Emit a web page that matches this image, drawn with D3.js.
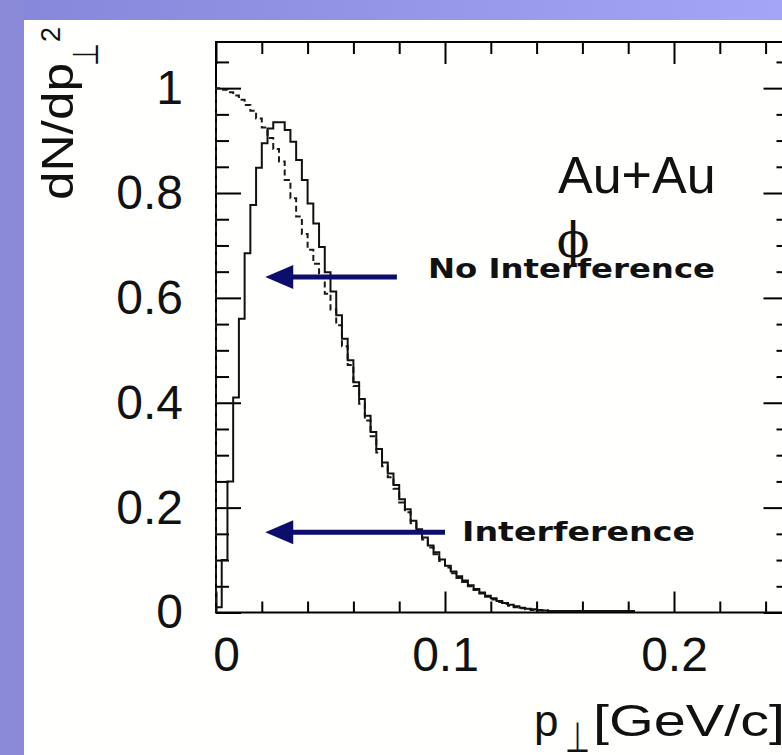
<!DOCTYPE html>
<html>
<head>
<meta charset="utf-8">
<script src="https://cdn.jsdelivr.net/npm/d3@7/dist/d3.min.js"></script>
<style>
  body { margin: 0; background: #fff; }
  svg { display: block; }
  text { font-family: "Liberation Sans", Arial, Helvetica, sans-serif; fill: #111; }
</style>
</head>
<body>
<div id="chart"></div>
<script>
// histogram bin width, GeV/c
var binWidth = 0.0025;

// dN/dp_T^2 per bin, with interference (solid line)
var interference = [
    0.01, 0.10, 0.25, 0.41, 0.56, 0.685, 0.777, 0.848, 0.895, 0.923,
    0.935, 0.935, 0.92, 0.898, 0.863, 0.825, 0.78, 0.742, 0.697, 0.649,
    0.612, 0.567, 0.522, 0.481, 0.439, 0.407, 0.375, 0.344, 0.312, 0.286,
    0.265, 0.243, 0.216, 0.197, 0.175, 0.159, 0.143, 0.128, 0.115, 0.101,
    0.089, 0.078, 0.069, 0.061, 0.052, 0.045, 0.038, 0.032, 0.027, 0.022,
    0.018, 0.015, 0.012, 0.009, 0.007, 0.006, 0.005, 0.004, 0.003, 0.003,
    0.003, 0.003, 0.003, 0.003, 0.003, 0.003, 0.003, 0.003, 0.003, 0.003,
    0.003, 0.003, 0.003
];

// dN/dp_T^2 per bin, no interference (dashed line)
var noInterference = [
    1.0, 0.997, 0.992, 0.986, 0.978, 0.968, 0.957, 0.942, 0.925, 0.905,
    0.884, 0.86, 0.825, 0.79, 0.755, 0.722, 0.692, 0.665, 0.638, 0.608,
    0.578, 0.548, 0.508, 0.472, 0.432, 0.398, 0.366, 0.336, 0.305, 0.279,
    0.258, 0.236, 0.21, 0.191, 0.17, 0.154, 0.139, 0.124, 0.111, 0.098,
    0.086, 0.075, 0.066, 0.058, 0.05, 0.043, 0.036, 0.03, 0.025, 0.02,
    0.016, 0.013, 0.01, 0.008, 0.006, 0.005, 0.004, 0.004, 0.003, 0.003,
    0.003, 0.003, 0.003, 0.003, 0.003, 0.003, 0.003, 0.003, 0.003, 0.003,
    0.003, 0.003, 0.003
];

var xMajor = [0, 0.1, 0.2];
var xMinor = [0.02, 0.04, 0.06, 0.08, 0.12, 0.14, 0.16, 0.18, 0.22, 0.24];
var yMajor = [0, 0.2, 0.4, 0.6, 0.8, 1];
var yMinor = [0.05, 0.1, 0.15, 0.25, 0.3, 0.35, 0.45, 0.5, 0.55, 0.65, 0.7, 0.75, 0.85, 0.9, 0.95, 1.05];

// arrows: tip and tail in data coordinates
var arrows = [
    {x0: 0.0215, x1: 0.079, y: 0.64},
    {x0: 0.0215, x1: 0.1, y: 0.153}
];

var width = 782,
    height = 755,
    frame = {left: 216, right: 788.5, top: 42, bottom: 612.5},
    navy = '#0d0d6b';

var svg = d3.select('#chart').append('svg')
    .attr('width', width)
    .attr('height', height);

// purple slide background
var grad = svg.append('defs').append('linearGradient')
    .attr('id', 'bg')
    .attr('x1', 0).attr('x2', 1).attr('y1', 0).attr('y2', 0);
grad.append('stop').attr('offset', 0).attr('stop-color', '#8686da');
grad.append('stop').attr('offset', 1).attr('stop-color', '#a5a5f5');

svg.append('rect').attr('width', width).attr('height', height).attr('fill', 'url(#bg)');
svg.append('rect').attr('width', 24).attr('height', height).attr('fill', '#8a8ad8');
svg.append('rect')
    .attr('x', 24).attr('y', 20)
    .attr('width', width - 24).attr('height', height - 20)
    .attr('fill', '#fffffd');

var x = d3.scaleLinear().domain([0, 0.25]).range([frame.left, frame.right]);
var y = d3.scaleLinear().domain([0, 1.088]).range([frame.bottom, frame.top]);

function fmt(d) { return String(d); }

function styleAxis(g) {
    g.select('.domain').remove();
    g.selectAll('line').attr('stroke', '#000').attr('stroke-width', 2);
}

// bottom
svg.append('g')
    .attr('transform', 'translate(0,' + frame.bottom + ')')
    .call(d3.axisBottom(x).tickValues(xMajor).tickSize(-21).tickFormat(fmt))
    .call(styleAxis)
    .call(function(g) {
        g.selectAll('text')
            .attr('y', 58.5).attr('dy', 0)
            .attr('dx', function(d) { return d === 0 ? 10 : 0; })
            .style('font-size', '48px').attr('fill', '#111');
    });
svg.append('g')
    .attr('transform', 'translate(0,' + frame.bottom + ')')
    .call(d3.axisBottom(x).tickValues(xMinor).tickSize(-11).tickFormat(''))
    .call(styleAxis);

// top
svg.append('g')
    .attr('transform', 'translate(0,' + frame.top + ')')
    .call(d3.axisTop(x).tickValues(xMajor).tickSize(-22).tickFormat(''))
    .call(styleAxis);
svg.append('g')
    .attr('transform', 'translate(0,' + frame.top + ')')
    .call(d3.axisTop(x).tickValues(xMinor).tickSize(-12).tickFormat(''))
    .call(styleAxis);

// left
svg.append('g')
    .attr('transform', 'translate(' + frame.left + ',0)')
    .call(d3.axisLeft(y).tickValues(yMajor).tickSize(-25).tickPadding(33).tickFormat(fmt))
    .call(styleAxis)
    .call(function(g) {
        g.selectAll('text').style('font-size', '48px').attr('fill', '#111');
    });
svg.append('g')
    .attr('transform', 'translate(' + frame.left + ',0)')
    .call(d3.axisLeft(y).tickValues(yMinor).tickSize(-13).tickFormat(''))
    .call(styleAxis);

// right
svg.append('g')
    .attr('transform', 'translate(' + frame.right + ',0)')
    .call(d3.axisRight(y).tickValues(yMajor).tickSize(-25).tickFormat(''))
    .call(styleAxis);
svg.append('g')
    .attr('transform', 'translate(' + frame.right + ',0)')
    .call(d3.axisRight(y).tickValues(yMinor).tickSize(-12).tickFormat(''))
    .call(styleAxis);

// frame
svg.append('rect')
    .attr('x', frame.left).attr('y', frame.top)
    .attr('width', frame.right - frame.left)
    .attr('height', frame.bottom - frame.top)
    .attr('fill', 'none').attr('stroke', '#000').attr('stroke-width', 2);

// histograms as step outlines
function steps(values) {
    var pts = [[0, 0]];
    values.forEach(function(v, i) { pts.push([i * binWidth, v]); });
    pts.push([values.length * binWidth, values[values.length - 1]]);
    pts.push([values.length * binWidth, 0]);
    return pts;
}

var line = d3.line()
    .x(function(d) { return x(d[0]); })
    .y(function(d) { return y(d[1]); })
    .curve(d3.curveStepAfter);

svg.append('path')
    .datum(steps(noInterference))
    .attr('d', line)
    .attr('fill', 'none')
    .attr('stroke', '#1a1a1a')
    .attr('stroke-width', 2)
    .attr('stroke-dasharray', '6,3.5');

svg.append('path')
    .datum(steps(interference))
    .attr('d', line)
    .attr('fill', 'none')
    .attr('stroke', '#111')
    .attr('stroke-width', 2);

// axis titles
svg.append('text')
    .attr('transform', 'translate(73,200) rotate(-90)')
    .attr('textLength', 137).attr('lengthAdjust', 'spacingAndGlyphs')
    .style('font-size', '45px')
    .text('dN/dp');
svg.append('text')
    .attr('transform', 'translate(98,66) rotate(-90)')
    .attr('textLength', 23).attr('lengthAdjust', 'spacingAndGlyphs')
    .style('font-family', '"DejaVu Sans", sans-serif')
    .style('font-size', '36px')
    .text('⊥');
svg.append('text')
    .attr('transform', 'translate(60,42) rotate(-90)')
    .style('font-size', '27px')
    .text('2');

svg.append('text')
    .attr('x', 534).attr('y', 736)
    .style('font-size', '44px')
    .text('p');
svg.append('text')
    .attr('x', 565).attr('y', 752)
    .attr('textLength', 25).attr('lengthAdjust', 'spacingAndGlyphs')
    .style('font-family', '"DejaVu Sans", sans-serif')
    .style('font-size', '42px')
    .text('⊥');
svg.append('text')
    .attr('x', 593).attr('y', 736)
    .attr('textLength', 192).attr('lengthAdjust', 'spacingAndGlyphs')
    .style('font-size', '44px')
    .text('[GeV/c]');

// labels
svg.append('text')
    .attr('x', 558).attr('y', 193)
    .style('font-size', '52px')
    .text('Au+Au');
svg.append('text')
    .attr('x', 573).attr('y', 257)
    .attr('text-anchor', 'middle')
    .style('font-family', '"DejaVu Serif", serif')
    .style('font-size', '48px')
    .text('ϕ');

// arrows
arrows.forEach(function(a) {
    var tip = x(a.x0), yy = y(a.y);
    svg.append('line')
        .attr('x1', tip + 24).attr('x2', x(a.x1))
        .attr('y1', yy).attr('y2', yy)
        .attr('stroke', navy).attr('stroke-width', 5);
    svg.append('path')
        .attr('d', 'M' + tip + ',' + yy + 'L' + (tip + 28) + ',' + (yy - 12) +
            'L' + (tip + 28) + ',' + (yy + 12) + 'Z')
        .attr('fill', navy);
});

svg.append('text')
    .attr('x', 428).attr('y', 278)
    .attr('textLength', 287).attr('lengthAdjust', 'spacingAndGlyphs')
    .style('font-family', '"DejaVu Sans", Verdana, sans-serif')
    .style('font-weight', 'bold')
    .style('font-size', '27px')
    .attr('fill', navy)
    .text('No Interference');
svg.append('text')
    .attr('x', 462).attr('y', 541)
    .attr('textLength', 233).attr('lengthAdjust', 'spacingAndGlyphs')
    .style('font-family', '"DejaVu Sans", Verdana, sans-serif')
    .style('font-weight', 'bold')
    .style('font-size', '27px')
    .attr('fill', navy)
    .text('Interference');
</script>
</body>
</html>
